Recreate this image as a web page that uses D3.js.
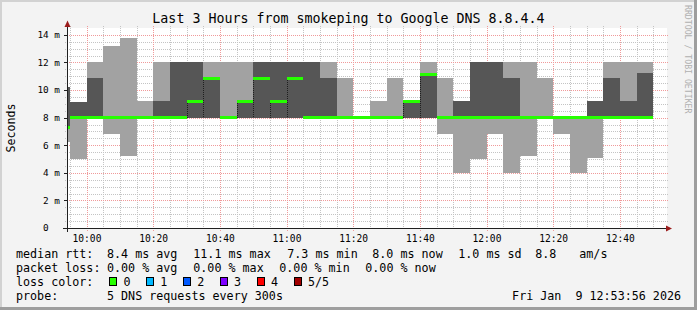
<!DOCTYPE html>
<html><head><meta charset="utf-8">
<script src="https://cdn.jsdelivr.net/npm/d3@7"></script>
<style>
html,body{margin:0;padding:0;background:#f3f3f3;}
svg{display:block;}
text{font-family:"DejaVu Sans Mono",monospace;fill:#000;}
</style></head><body>
<svg id="c" width="697" height="310"></svg>
<script>
// ---- data (ms) ----
const endTimes = ["09:55","10:00","10:05","10:10","10:15","10:20","10:25","10:30","10:35","10:40","10:45","10:50","10:55",
  "11:00","11:05","11:10","11:15","11:20","11:25","11:30","11:35","11:40","11:45","11:50","11:55",
  "12:00","12:05","12:10","12:15","12:20","12:25","12:30","12:35","12:40","12:45","12:50"];
const ping1  = [6.2,5.0,8,6.8,5.2,8,8,8,8,8,8,8,8,8,8,8,8,8,8,8,8,8,8,6.8,4.0,5.0,6.8,4.0,5.2,8,6.8,4.0,5.1,8,8,8];
const ping2  = [7.3,8,8,8,8,8,8,8,8,8,8,8,8,8,8,8,8,8,8,8,8,8,8,8,8,8,8,8,8,8,8,8,8,8,8,8];
const median = [7.3,8,8,8,8,8,8,8,9.2,10.85,8,9.2,10.85,9.2,10.85,8,8,8,8,8,8,9.2,11.1,8,8,8,8,8,8,8,8,8,8,8,8,8];
const ping4  = [10.2,9.1,10.85,8,8,8,9.2,12,12,10.85,8,9.2,12,12,12,12,10.85,8,8,8,8,9.2,11.1,8,9.2,12,12,10.85,8,8,8,8,9.2,10.85,9.2,11.25];
const ping5  = [10.2,9.1,12,13.2,13.75,9.2,12,12,12,12,12,12,12,12,12,12,12,10.85,8,9.2,10.85,9.2,12,10.85,9.2,12,12,12,12,10.9,8,8,9.2,12,12,12];
const xTickLabels = ["10:00","10:20","10:40","11:00","11:20","11:40","12:00","12:20","12:40"];
const yTickValues = [0,2,4,6,8,10,12,14];
const lossLabels = ["0","1","2","3","4","5/5"];
const lossColors = ["#26ff00","#00b8ff","#0059ff","#7e00ff","#ff0000","#a10000"];

const day = "2026-01-09T";
const parse = s => new Date(day + s + ":00");
const x = d3.scaleTime().domain([new Date(day+"09:54:09"), new Date(day+"12:54:09")]).range([67, 667]);
const y = d3.scaleLinear().domain([0, 14.5]).range([228, 28]);

const svg = d3.select("#c");
// background + frame
svg.append("rect").attr("x",0).attr("y",0).attr("width",697).attr("height",310).attr("fill","#f3f3f3");
svg.append("rect").attr("x",0).attr("y",0).attr("width",697).attr("height",2).attr("fill","#d2d2d2");
svg.append("rect").attr("x",0).attr("y",0).attr("width",2).attr("height",310).attr("fill","#d2d2d2");
svg.append("rect").attr("x",694).attr("y",0).attr("width",3).attr("height",310).attr("fill","#9e9e9e");
svg.append("rect").attr("x",0).attr("y",307).attr("width",697).attr("height",3).attr("fill","#9e9e9e");

// plot area
svg.append("rect").attr("x",67).attr("y",28).attr("width",600).attr("height",200).attr("fill","#fff");

const g = svg.append("g").attr("shape-rendering","crispEdges");

// grid
const minorY = d3.range(0.5, 14.5, 0.5).filter(v => Math.abs(v/2 - Math.round(v/2)) > 1e-6);
g.selectAll(".hmin").data(minorY).enter().append("line")
  .attr("x1",65).attr("x2",669).attr("y1",d=>Math.round(y(d))+0.5).attr("y2",d=>Math.round(y(d))+0.5)
  .attr("stroke","#c4c4c4").attr("stroke-dasharray","1,1");
const minorX = d3.timeMinute.every(5).range(x.domain()[0], x.domain()[1]).filter(t => t.getMinutes() % 20 !== 0);
g.selectAll(".vmin").data(minorX).enter().append("line")
  .attr("y1",26).attr("y2",230).attr("x1",d=>Math.round(x(d))+0.5).attr("x2",d=>Math.round(x(d))+0.5)
  .attr("stroke","#c4c4c4").attr("stroke-dasharray","1,1");
g.selectAll(".hmaj").data(yTickValues.filter(v=>v>0)).enter().append("line")
  .attr("x1",65).attr("x2",669).attr("y1",d=>Math.round(y(d))+0.5).attr("y2",d=>Math.round(y(d))+0.5)
  .attr("stroke","#f09a9a").attr("stroke-dasharray","1,1");
const majorX = xTickLabels.map(parse);
g.selectAll(".vmaj").data(majorX).enter().append("line")
  .attr("y1",26).attr("y2",231).attr("x1",d=>Math.round(x(d))+0.5).attr("x2",d=>Math.round(x(d))+0.5)
  .attr("stroke","#f09a9a").attr("stroke-dasharray","1,1");

// columns
const cols = endTimes.map((t,i) => {
  const e = parse(t);
  const s = new Date(Math.max(e.getTime() - 300000, x.domain()[0].getTime()));
  return {x0: x(s), x1: x(e), p1: ping1[i], p2: ping2[i], med: median[i], p4: ping4[i], p5: ping5[i]};
});
g.selectAll(".light").data(cols).enter().append("rect")
  .attr("x",d=>d.x0).attr("width",d=>d.x1-d.x0)
  .attr("y",d=>y(d.p5)).attr("height",d=>y(d.p1)-y(d.p5)).attr("fill","#a2a2a2");
g.selectAll(".dark").data(cols).enter().append("rect")
  .attr("x",d=>d.x0).attr("width",d=>d.x1-d.x0)
  .attr("y",d=>y(d.p4)).attr("height",d=>y(d.p2)-y(d.p4)).attr("fill","#565656");
g.selectAll(".step").data(cols.filter(d=>d.med>d.p2)).enter().append("line")
  .attr("x1",d=>Math.round(d.x0)+0.5).attr("x2",d=>Math.round(d.x0)+0.5)
  .attr("y1",d=>y(d.med)).attr("y2",d=>y(d.p2))
  .attr("stroke","#1e1e1e").attr("stroke-dasharray","1,1");
g.selectAll(".med").data(cols).enter().append("rect")
  .attr("x",d=>d.x0).attr("width",d=>d.x1-d.x0)
  .attr("y",d=>y(d.med)-1.5).attr("height",3).attr("fill",lossColors[0]);

// axes
g.append("line").attr("x1",63).attr("x2",668).attr("y1",228.5).attr("y2",228.5).attr("stroke","#202020");
g.append("line").attr("x1",67.5).attr("x2",67.5).attr("y1",232).attr("y2",25).attr("stroke","#202020");
svg.append("path").attr("d","M67.5,20.5 L64.5,27 L70.5,27 Z").attr("fill","#9b1c1c");
svg.append("path").attr("d","M672,228.5 L666,225.5 L666,231.5 Z").attr("fill","#9b1c1c");
g.selectAll(".yt").data(yTickValues).enter().append("line")
  .attr("x1",64).attr("x2",67).attr("y1",d=>Math.round(y(d))+0.5).attr("y2",d=>Math.round(y(d))+0.5)
  .attr("stroke","#202020");

// tick labels
svg.selectAll(".ylab").data(yTickValues).enter().append("text")
  .attr("x",60).attr("y",d=>y(d)+3.4).attr("text-anchor","end")
  .style("font-size","9.4px").style("white-space","pre")
  .text(d => d === 0 ? "0\u00a0\u00a0" : d + " m");
svg.selectAll(".xlab").data(majorX).enter().append("text")
  .attr("x",d=>x(d)+0.5).attr("y",241.5).attr("text-anchor","middle")
  .style("font-size","9.6px").text((d,i)=>xTickLabels[i]);

// title
svg.append("text").attr("x",348.5).attr("y",23).attr("text-anchor","middle")
  .style("font-size","13.3px").text("Last 3 Hours from smokeping to Google DNS 8.8.4.4");
// y label
svg.append("text").attr("transform","translate(14.5,128) rotate(-90)").attr("text-anchor","middle")
  .style("font-size","11.6px").text("Seconds");
// watermark
svg.append("text").attr("transform","translate(684.5,5) rotate(90)").attr("text-anchor","start")
  .style("font-size","8.2px").style("fill","#b0b0b0").text("RRDTOOL / TOBI OETIKER");

// legend
const lg = svg.append("g").style("font-size","11.7px");
const legendRows = [
  [[16,"median rtt:"],[107,"8.4 ms avg"],[193.3,"11.1 ms max"],[287.3,"7.3 ms min"],[372.3,"8.0 ms now"],[458.3,"1.0 ms sd"],[535.3,"8.8"],[579.3,"am/s"]],
  [[16,"packet loss:"],[107,"0.00 % avg"],[193.3,"0.00 % max"],[279.3,"0.00 % min"],[365.3,"0.00 % now"]],
  [[16,"loss color:"]],
  [[16,"probe:"],[107,"5 DNS requests every 300s"]]
];
const baselines = [258.2,272.2,286.2,300];
legendRows.forEach((row,r) => row.forEach(([px,t]) => {
  lg.append("text").attr("x",px).attr("y",baselines[r]).style("white-space","pre").text(t);
}));
lg.append("text").attr("x",681).attr("y",300).attr("text-anchor","end").style("white-space","pre").text("Fri Jan  9 12:53:56 2026");
lossLabels.forEach((l,i) => {
  const bx = 109 + i*36.9;
  lg.append("rect").attr("x",bx+0.5).attr("y",277.5).attr("width",7).attr("height",8)
    .attr("fill",lossColors[i]).attr("stroke","#000").attr("stroke-width",1).attr("shape-rendering","crispEdges");
  lg.append("text").attr("x",bx+14.4).attr("y",286.2).text(l);
});
</script>
</body></html>
